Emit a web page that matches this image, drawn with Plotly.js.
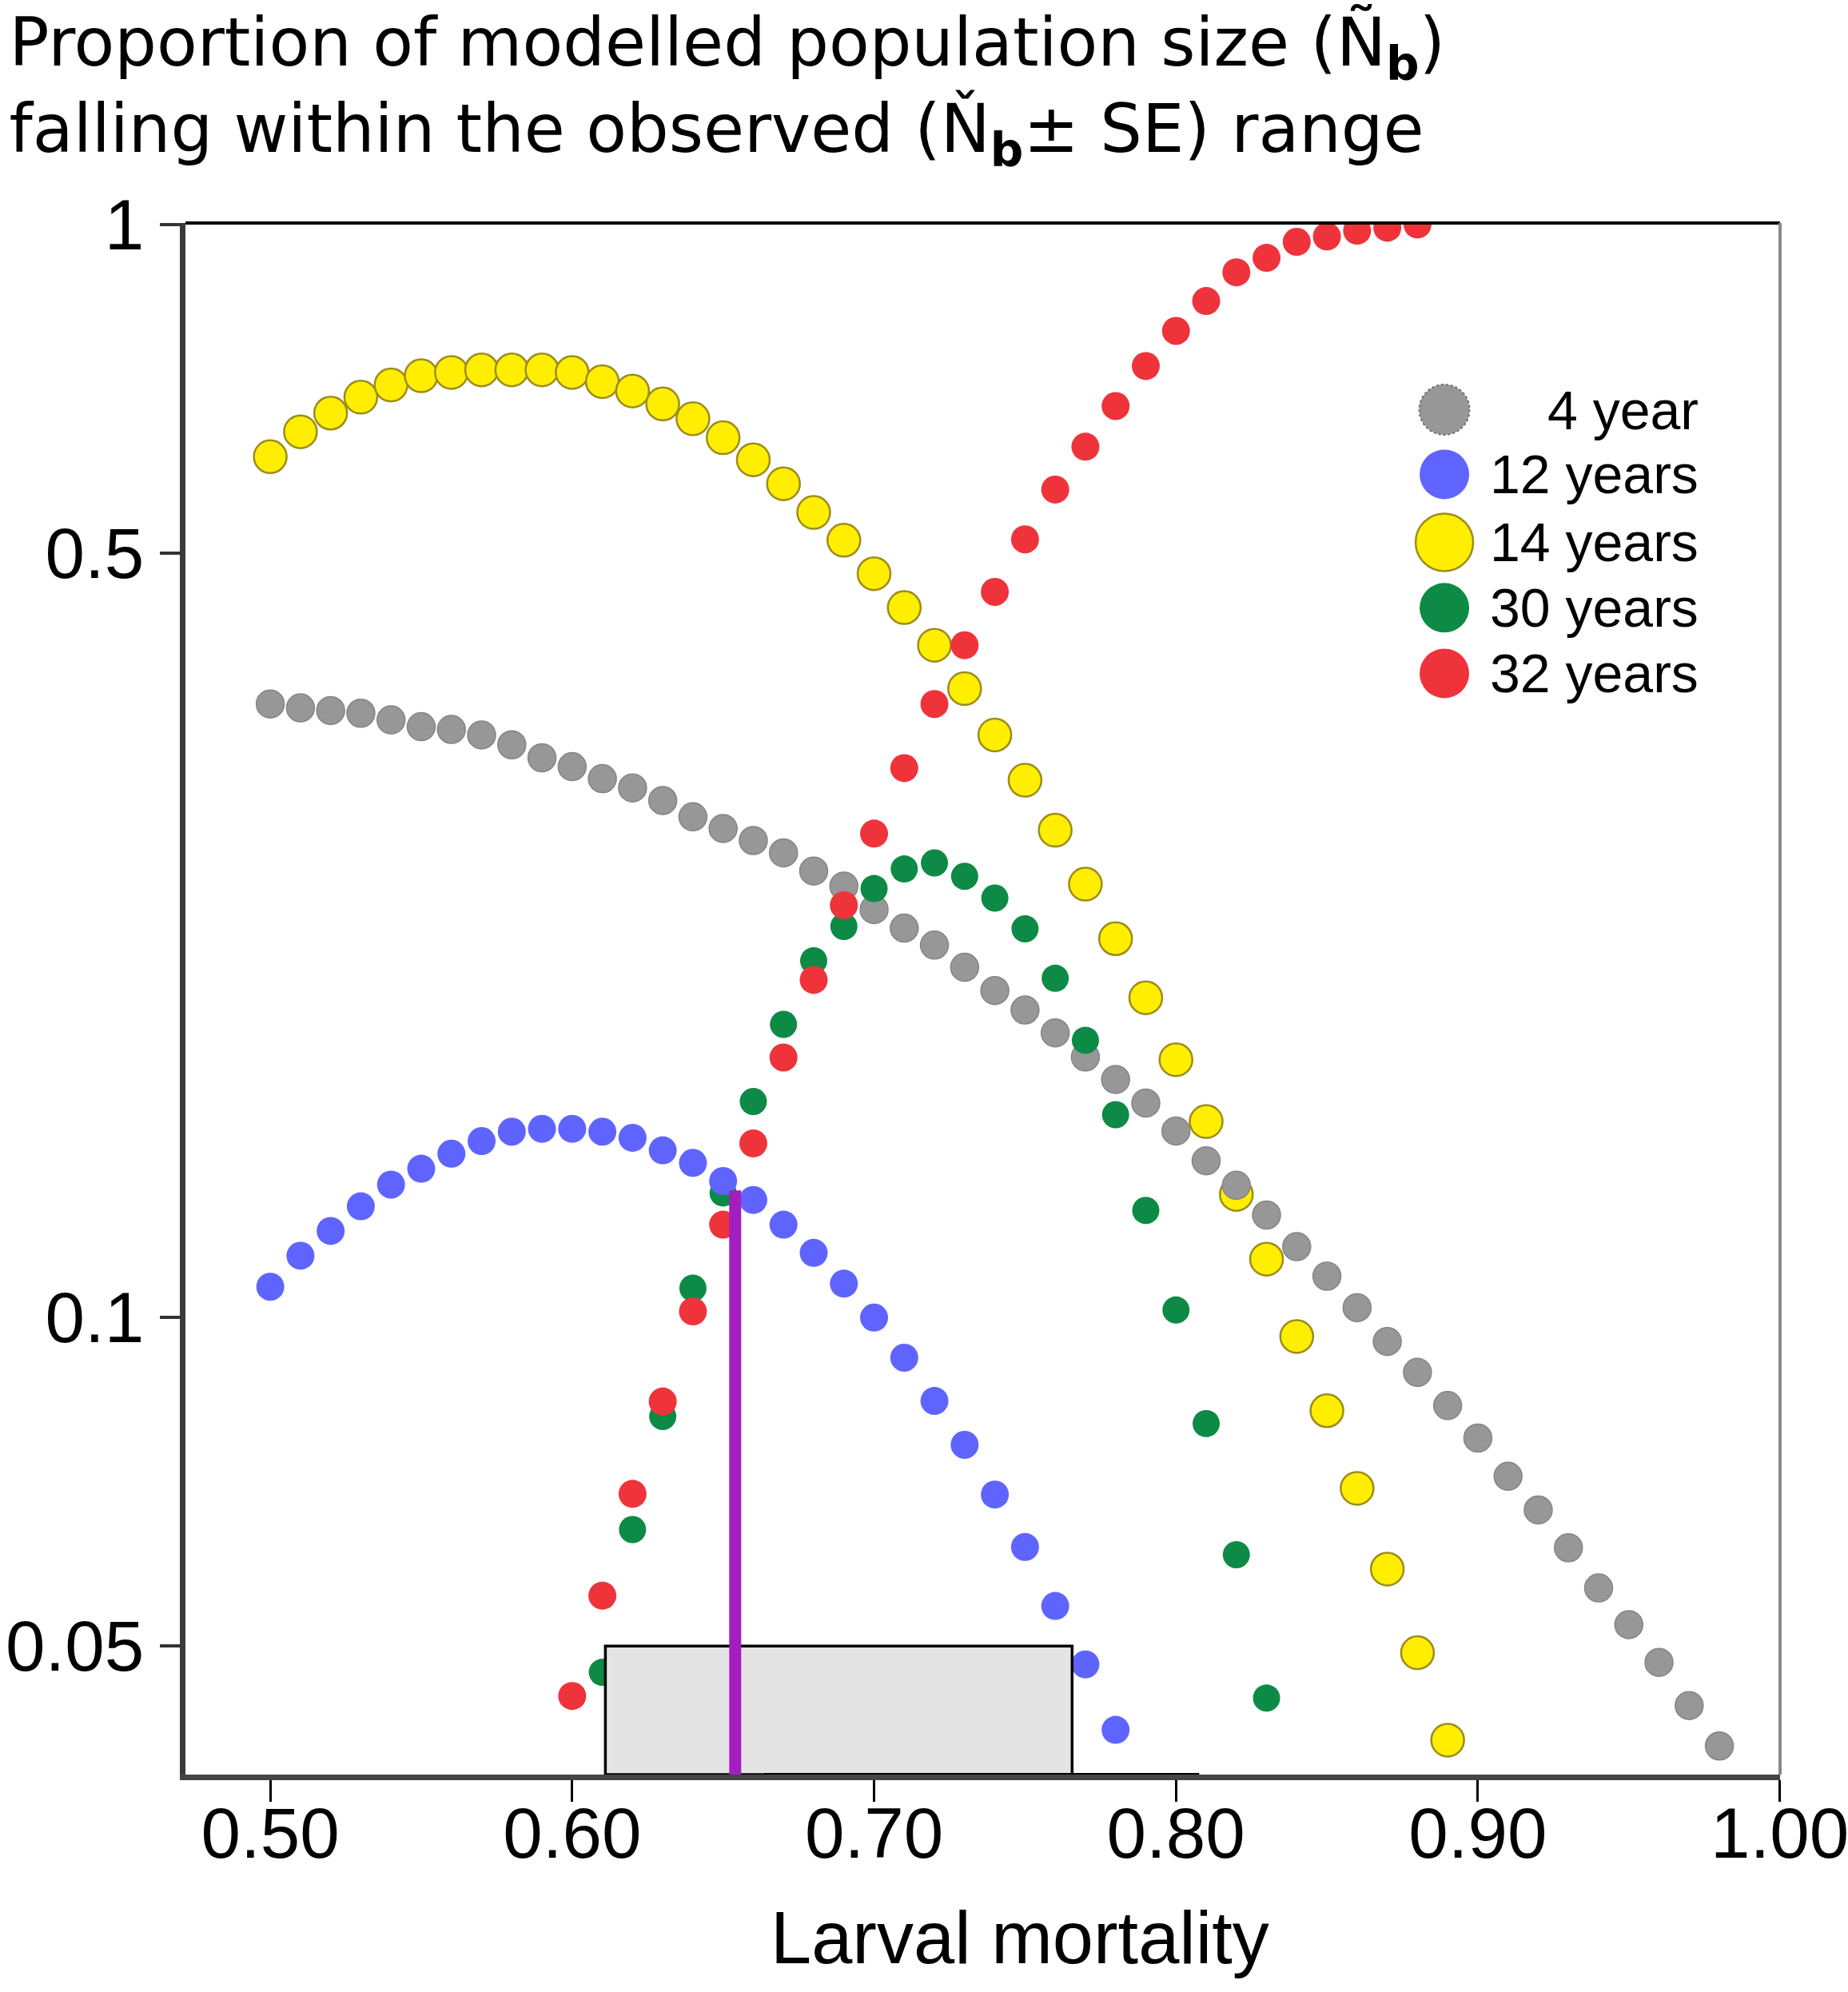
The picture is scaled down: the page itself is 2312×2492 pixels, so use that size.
<!DOCTYPE html>
<html>
<head>
<meta charset="utf-8">
<script src="https://cdn.plot.ly/plotly-3.0.1.min.js"></script>
<style>
  html, body { margin: 0; padding: 0; background: #fff; }
  #chart { width: 2312px; height: 2492px; }
</style>
</head>
<body>
<div id="chart"></div>
<script>
// larval mortality values on the x axis
var mortality = [0.50, 0.51, 0.52, 0.53, 0.54, 0.55, 0.56, 0.57, 0.58, 0.59,
                 0.60, 0.61, 0.62, 0.63, 0.64, 0.65, 0.66, 0.67, 0.68, 0.69,
                 0.70, 0.71, 0.72, 0.73, 0.74, 0.75, 0.76, 0.77, 0.78, 0.79,
                 0.80, 0.81, 0.82, 0.83, 0.84, 0.85, 0.86, 0.87, 0.88, 0.89,
                 0.90, 0.91, 0.92, 0.93, 0.94, 0.95, 0.96, 0.97, 0.98];

// proportion within observed range, one value per mortality (null = no point)
var year4 = [0.364, 0.361, 0.359, 0.357, 0.352, 0.347, 0.345, 0.341, 0.334, 0.325,
             0.319, 0.311, 0.305, 0.297, 0.287, 0.280, 0.273, 0.266, 0.256, 0.248,
             0.236, 0.227, 0.219, 0.209, 0.199, 0.191, 0.182, 0.173, 0.165, 0.157,
             0.148, 0.139, 0.132, 0.124, 0.116, 0.109, 0.102, 0.095, 0.089, 0.083,
             0.0775, 0.0715, 0.0666, 0.0615, 0.0565, 0.0523, 0.0483, 0.0441, 0.0405];

var years12 = [0.1066, 0.1138, 0.1199, 0.1263, 0.1322, 0.1367, 0.1411, 0.1449, 0.1478, 0.1487,
               0.1487, 0.1478, 0.1459, 0.1421, 0.1384, 0.1332, 0.1280, 0.1215, 0.1145, 0.1073,
               0.0999, 0.0918, 0.0838, 0.0764, 0.0688, 0.0616, 0.0544, 0.0481, 0.0419, null,
               null, null, null, null, null, null, null, null, null, null,
               null, null, null, null, null, null, null, null, null];

var years14 = [0.613, 0.646, 0.672, 0.695, 0.713, 0.727, 0.732, 0.736, 0.736, 0.736,
               0.732, 0.718, 0.704, 0.685, 0.664, 0.638, 0.609, 0.579, 0.545, 0.514,
               0.479, 0.446, 0.412, 0.376, 0.341, 0.310, 0.279, 0.249, 0.222, 0.196,
               0.172, 0.151, 0.1295, 0.113, 0.096, 0.0821, 0.0697, 0.0588, 0.0493, 0.0410,
               null, null, null, null, null, null, null, null, null];

var years30 = [null, null, null, null, null, null, null, null, null, null,
               null, 0.0473, 0.0639, 0.0811, 0.1063, 0.1299, 0.1575, 0.1853, 0.2119, 0.2278,
               0.2467, 0.2571, 0.2604, 0.2532, 0.2418, 0.2266, 0.2042, 0.1792, 0.1532, 0.1252,
               0.1015, 0.0799, 0.0606, 0.0448, null, null, null, null, null, null,
               null, null, null, null, null, null, null, null, null];

var years32 = [null, null, null, null, null, null, null, null, null, null,
               0.0450, 0.0556, 0.0689, 0.0837, 0.1012, 0.1215, 0.1442, 0.1728, 0.2035, 0.2382,
               0.277, 0.318, 0.364, 0.412, 0.461, 0.515, 0.572, 0.626, 0.682, 0.742,
               0.799, 0.851, 0.904, 0.932, 0.964, 0.975, 0.987, 0.993, 1.000, null,
               null, null, null, null, null, null, null, null, null];

// observed range box and best-fit mortality line
var observedMortality = [0.611, 0.7656];
var observedTop = 0.05;
var bestMortality = 0.654;
var bestTop = 0.1306;
var axisMark = [0.6637, 0.8077];

var xTicks = [0.5, 0.6, 0.7, 0.8, 0.9, 1.0];
var xTickText = ['0.50', '0.60', '0.70', '0.80', '0.90', '1.00'];
var yTicks = [0.05, 0.1, 0.5, 1];
var yTickText = ['0.05', '0.1', '0.5', '1'];

var legendLabels = ['4 year', '12 years', '14 years', '30 years', '32 years'];
var legendColors = ['#979797', '#5f64ff', '#ffee00', '#0d8a45', '#ef333b'];

var yRange = [-1.4187, 0.0013];
var yFloor = Math.pow(10, yRange[0]);

function dots(y, color, size, line) {
    return {
        x: mortality,
        y: y,
        type: 'scatter',
        mode: 'markers',
        marker: { color: color, size: size, line: line || { width: 0 } },
        showlegend: false,
        hoverinfo: 'skip'
    };
}

var data = [
    dots(years14, legendColors[2], 41, { color: '#9c8c1e', width: 2.5 }),
    dots(year4, legendColors[0], 35, { color: '#858585', width: 1.5 }),
    dots(years30, legendColors[3], 34),
    dots(years12, legendColors[1], 35),
    dots(years32, legendColors[4], 35),
    {
        x: [observedMortality[0], observedMortality[0], observedMortality[1], observedMortality[1], observedMortality[0]],
        y: [yFloor, observedTop, observedTop, yFloor, yFloor],
        type: 'scatter',
        mode: 'lines',
        fill: 'toself',
        fillcolor: '#e4e4e4',
        line: { color: '#000', width: 3.5 },
        showlegend: false,
        hoverinfo: 'skip'
    },
    {
        x: [bestMortality, bestMortality],
        y: [yFloor, bestTop],
        type: 'scatter',
        mode: 'lines',
        line: { color: '#a21ebe', width: 15 },
        showlegend: false,
        hoverinfo: 'skip'
    },
    {
        x: axisMark,
        y: [yFloor, yFloor],
        type: 'scatter',
        mode: 'lines',
        line: { color: '#000', width: 4 },
        cliponaxis: false,
        showlegend: false,
        hoverinfo: 'skip'
    }
];

// hand-made legend: circles on the left, right-aligned labels
var legendRows = [0.8797, 0.8380, 0.7942, 0.7520, 0.7097];
var legendSizes = [63, 62, 72, 62, 62];
var shapes = [
    { type: 'line', xref: 'paper', yref: 'paper', x0: 0, x1: 1, y0: 1, y1: 1,
      line: { color: '#000', width: 4 } },
    { type: 'line', xref: 'paper', yref: 'paper', x0: 1, x1: 1, y0: 0, y1: 1,
      line: { color: '#888', width: 4 } }
];
var annotations = [];
legendLabels.forEach(function (label, i) {
    var r = legendSizes[i] / 2;
    shapes.push({
        type: 'circle', xref: 'paper', yref: 'paper',
        xsizemode: 'pixel', ysizemode: 'pixel',
        xanchor: 0.7895, yanchor: legendRows[i],
        x0: -r, x1: r, y0: -r, y1: r,
        fillcolor: legendColors[i],
        line: i === 2 ? { color: '#9c8c1e', width: 2.5 } :
              (i === 0 ? { color: '#6e6e6e', width: 2, dash: 'dot' } : { width: 0 })
    });
    annotations.push({
        xref: 'paper', yref: 'paper', x: 0.9499, y: legendRows[i],
        xanchor: 'right', yanchor: 'middle', showarrow: false,
        text: label,
        font: { family: 'Liberation Sans, Arial, sans-serif', size: 68, color: '#000' }
    });
});

// x axis title, sitting a little right of centre as in the original
annotations.push({
    xref: 'paper', yref: 'paper', x: 0.5234, y: -0.1053,
    xanchor: 'center', yanchor: 'middle', showarrow: false,
    text: 'Larval mortality',
    font: { family: 'Liberation Sans, Arial, sans-serif', size: 92, color: '#000' }
});

var layout = {
    width: 2312,
    height: 2492,
    paper_bgcolor: '#fff',
    plot_bgcolor: '#fff',
    margin: { l: 232, r: 85, t: 279, b: 272, pad: 0 },
    title: {
        text: 'Proportion of modelled population size (Ñ<sub><b>b</b></sub>)<br>' +
              'falling within the observed (Ň<sub><b>b</b></sub>± SE) range',
        font: { family: 'DejaVu Sans, sans-serif', size: 83, color: '#000' },
        xref: 'container', x: 0.005, xanchor: 'left',
        yref: 'container', y: 0.967, yanchor: 'top'
    },
    xaxis: {
        range: [0.4719, 1.0001],
        tickvals: xTicks,
        ticktext: xTickText,
        ticks: 'outside',
        ticklen: 27,
        tickwidth: 3,
        tickcolor: '#000',
        ticklabelstandoff: -37,
        ticklabeloverflow: 'allow',
        showline: true,
        linecolor: '#454545',
        linewidth: 7,
        showgrid: false,
        zeroline: false,
        tickfont: { family: 'Liberation Sans, Arial, sans-serif', size: 89, color: '#000' }
    },
    yaxis: {
        type: 'log',
        range: yRange,
        tickvals: yTicks,
        ticktext: yTickText,
        ticks: 'outside',
        ticklen: 25,
        tickwidth: 4,
        tickcolor: '#333',
        ticklabelstandoff: 2,
        ticklabeloverflow: 'allow',
        showline: true,
        linecolor: '#3a3a3a',
        linewidth: 7,
        showgrid: false,
        zeroline: false,
        tickfont: { family: 'Liberation Sans, Arial, sans-serif', size: 89, color: '#000' }
    },
    shapes: shapes,
    annotations: annotations,
    showlegend: false
};

Plotly.newPlot('chart', data, layout, { displayModeBar: false, staticPlot: true });
</script>
</body>
</html>
